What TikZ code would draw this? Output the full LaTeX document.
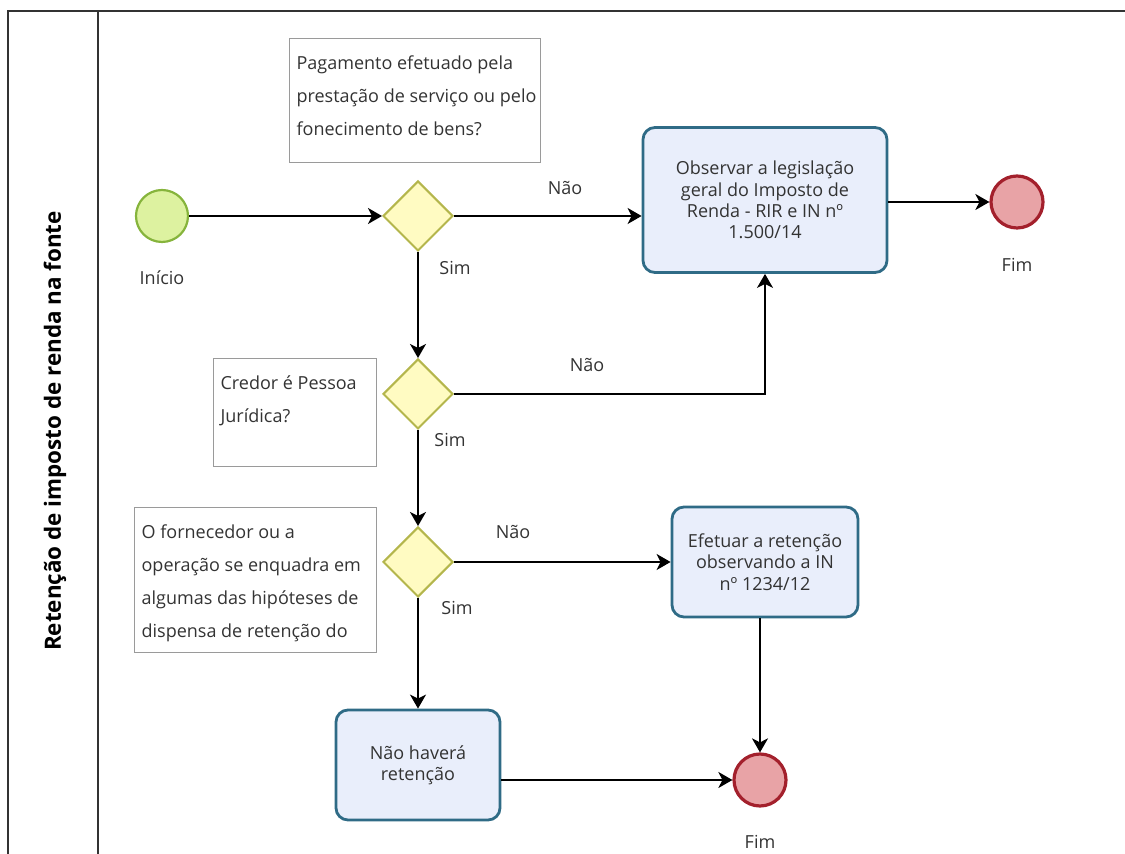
\documentclass[tikz,border=0pt]{standalone}
\usepackage{fontspec}
\setmainfont{Open Sans}
\usetikzlibrary{shapes.geometric, arrows.meta, positioning}

\definecolor{taskline}{HTML}{2F6B86}
\definecolor{taskfill}{HTML}{E9EEFB}
\definecolor{gateline}{HTML}{B4B64C}
\definecolor{gatefill}{HTML}{FFFBC2}
\definecolor{startline}{HTML}{86B43C}
\definecolor{startfill}{HTML}{DDF2A0}
\definecolor{endline}{HTML}{A3202C}
\definecolor{endfill}{HTML}{E8A3A6}
\definecolor{notegray}{HTML}{9A9A9A}
\definecolor{txtgray}{HTML}{333333}

% text of a note: width, height, lines
\newcommand{\notetxt}[3]{\parbox[c][#2][t]{#1}{\vspace*{8.5pt}\raggedright\leftskip=3.5pt #3}}

\begin{document}
\begin{tikzpicture}[x=0.5pt, y=-0.5pt]
    \tikzset{
        task/.style = {rectangle, draw=taskline, fill=taskfill, line width=1.4pt, rounded corners=6pt, align=center, inner sep=2pt, font=\fontsize{9}{10.7}\selectfont, text=txtgray},
        gate/.style = {diamond, draw=gateline, fill=gatefill, line width=1pt, minimum width=35pt, minimum height=35pt, inner sep=0pt},
        startev/.style = {circle, draw=startline, fill=startfill, line width=1.1pt, minimum size=26pt, inner sep=0pt},
        endev/.style = {circle, draw=endline, fill=endfill, line width=1.6pt, minimum size=26pt, inner sep=0pt},
        note/.style = {rectangle, draw=notegray, line width=0.6pt, anchor=north west, inner sep=0pt, font=\fontsize{9}{16.5}\selectfont, text=txtgray},
        lbl/.style = {font=\fontsize{9}{10}\selectfont, text=txtgray},
        line/.style = {draw=black, line width=0.9pt, -{Stealth[length=7pt, width=8pt, inset=2pt]}},
    }
    \useasboundingbox (0,0) rectangle (1125,854);

    % pool and lane
    \draw[line width=1pt, black!80] (8,854) -- (8,11) -- (1125,11);
    \draw[line width=1pt, black!80] (98,11) -- (98,854);
    \node[rotate=90, font=\fontsize{11.2}{13}\selectfont\bfseries] (lane) at (55,431) {Retenção de imposto de renda na fonte};

    % events, gateways and tasks
    \node[startev] (inicio) at (162,216) {};
    \node[lbl] (inicio label) at (162,278) {Início};

    \node[gate] (pagamento) at (418,216) {};
    \node[gate] (credor) at (418,394) {};
    \node[gate] (dispensa) at (418,562) {};

    \node[task, minimum width=122pt, minimum height=72.5pt] (observar) at (765,200) {Observar a legislação\\geral do Imposto de\\Renda - RIR e IN nº\\1.500/14};
    \node[task, minimum width=93pt, minimum height=55pt] (efetuar) at (765,562) {Efetuar a retenção\\observando a IN\\nº 1234/12};
    \node[task, minimum width=82pt, minimum height=55pt] (naohavera) at (418,765) {Não haverá\\retenção};

    \node[endev] (fim1) at (1017,202) {};
    \node[lbl] (fim1 label) at (1017,265) {Fim};
    \node[endev] (fim2) at (760,780) {};
    \node[lbl] (fim2 label) at (760,842) {Fim};

    % notes
    \node[note] (note1) at (289,38) {\notetxt{125.5pt}{62pt}{Pagamento efetuado pela\\prestação de serviço ou pelo\\fonecimento de bens?}};
    \node[note] (note2) at (213,358) {\notetxt{81.5pt}{54pt}{Credor é Pessoa\\Jurídica?}};
    \node[note] (note3) at (134,507) {\notetxt{121pt}{72.5pt}{O fornecedor ou a\\operação se enquadra em\\algumas das hipóteses de\\dispensa de retenção do}};

    % flows
    \path [line] (inicio) -- (pagamento);
    \path [line] (pagamento) -- (pagamento -| observar.west);
    \path [line] (observar.east |- fim1) -- (fim1);
    \path [line] (pagamento) -- (credor);
    \path [line] (credor.east) -| (observar.south);
    \path [line] (credor) -- (dispensa);
    \path [line] (dispensa) -- (efetuar);
    \path [line] (efetuar.south -| fim2) -- (fim2);
    \path [line] (dispensa) -- (naohavera);
    \path [line] (naohavera.east |- fim2) -- (fim2);

    % flow labels
    \node[lbl] (nao1) at (565,188) {Não};
    \node[lbl] (sim1) at (455,268) {Sim};
    \node[lbl] (nao2) at (587,365) {Não};
    \node[lbl] (sim2) at (450,440) {Sim};
    \node[lbl] (nao3) at (513,532) {Não};
    \node[lbl] (sim3) at (457,608) {Sim};
\end{tikzpicture}
\end{document}
